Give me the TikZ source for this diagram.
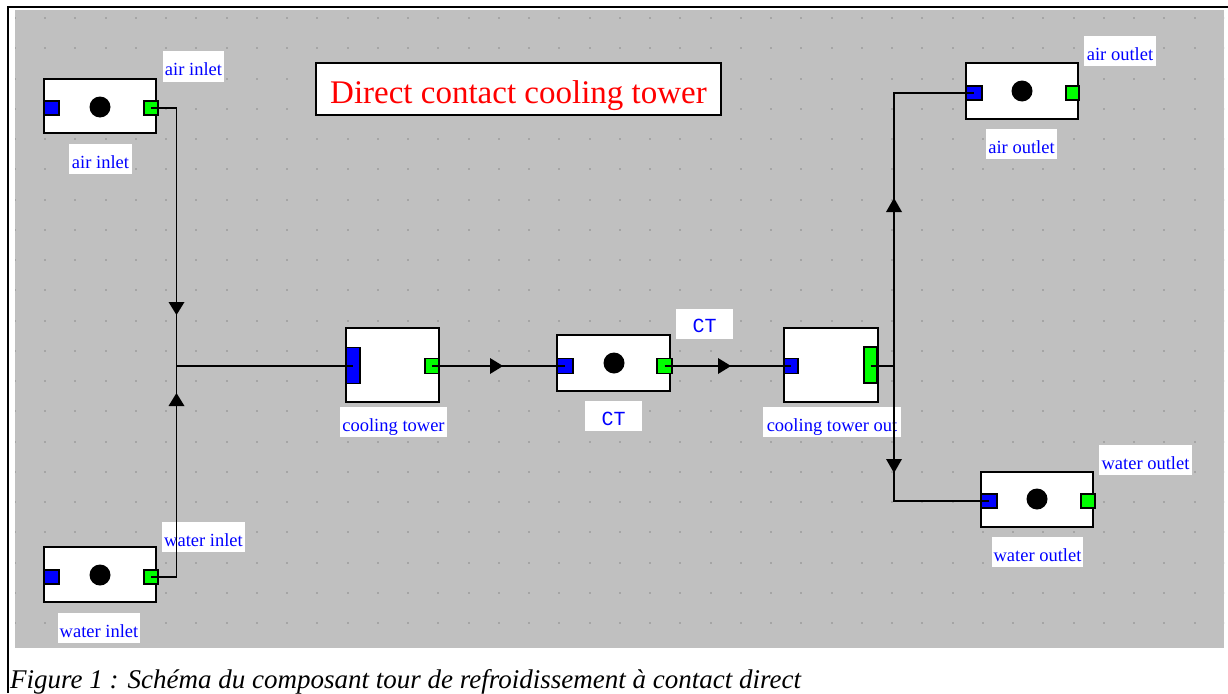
\documentclass[tikz,border=0pt]{standalone}
\usepackage{fontspec}
\setmainfont{Liberation Serif}
\newfontfamily\ctmono{Liberation Mono}
\definecolor{bggray}{RGB}{192,192,192}
\definecolor{dotgray}{RGB}{165,165,165}
\definecolor{portblue}{RGB}{0,0,255}
\definecolor{portgreen}{RGB}{0,255,0}
\definecolor{labelblue}{RGB}{0,0,255}
\definecolor{titlered}{RGB}{255,0,0}
\begin{document}
\begin{tikzpicture}[x=1pt,y=-1pt,
  unit/.style={draw=black, line width=1.5pt, fill=white, inner sep=0pt},
  inport/.style={draw=black, line width=1.2pt, fill=portblue, inner sep=0pt, minimum width=15pt, minimum height=14pt},
  outport/.style={draw=black, line width=1.2pt, fill=portgreen, inner sep=0pt, minimum width=14pt, minimum height=14pt},
  hub/.style={circle, fill=black, inner sep=0pt, minimum size=21pt},
  tag/.style={fill=white, text=labelblue, inner xsep=0pt, inner ysep=0pt,
    font=\fontsize{18.5}{20}\selectfont, text height=24pt, text depth=6pt, minimum width=#1},
  monotag/.style={tag=#1, font=\ctmono\fontsize{20}{22}\selectfont},
  wire/.style={draw=black, line width=1.6pt},
  tip/.style={fill=black}
]
\useasboundingbox (0,0) rectangle (1228,693);
% frame
\draw[line width=2.2pt] (8,693) -- (8,7) -- (1228,7);
\fill[bggray] (15,10) rectangle (1224,648);
\begin{scope}
  \clip (15,10) rectangle (1224,648);
  \foreach \i in {0,...,40}{\foreach \j in {0,...,20}{
    \fill[dotgray] ({14.75+30.25*\i-1},{18+30.25*\j-1}) rectangle ++(2,2);}}
\end{scope}

% air inlet
\node[unit, minimum width=112pt, minimum height=54pt] (ai) at (100,106) {};
\node[inport] (aib) at (51.5,108) {};
\node[outport] (aig) at (151,108) {};
\node[hub] (aih) at (100,107) {};
% water inlet
\node[unit, minimum width=112pt, minimum height=55pt] (wi) at (100,574.5) {};
\node[inport] (wib) at (51.5,577) {};
\node[outport] (wig) at (151,577) {};
\node[hub] (wih) at (100,575) {};
% cooling tower
\node[unit, minimum width=93pt, minimum height=74pt] (ct) at (392.5,365) {};
\node[inport, minimum width=14pt, minimum height=36pt] (ctb) at (353,365.5) {};
\node[outport, minimum height=15pt] (ctg) at (432,366) {};
% CT
\node[unit, minimum width=113pt, minimum height=56pt] (cti) at (613.5,363) {};
\node[inport, minimum width=16pt, minimum height=15pt] (cib) at (565,366) {};
\node[outport, minimum width=15pt, minimum height=15pt] (cig) at (664.5,366) {};
\node[hub] (cih) at (614,363) {};
% cooling tower out
\node[unit, minimum width=94pt, minimum height=74pt] (cto) at (831,365) {};
\node[inport, minimum width=14pt, minimum height=15pt] (cob) at (791,366) {};
\node[outport, minimum width=13pt, minimum height=36pt] (cog) at (870.5,365) {};
% air outlet
\node[unit, minimum width=112pt, minimum height=56pt] (ao) at (1022,91) {};
\node[inport, minimum width=16pt] (aob) at (974,93) {};
\node[outport, minimum width=13pt] (aog) at (1072.5,93) {};
\node[hub] (aoh) at (1022,91) {};
% water outlet
\node[unit, minimum width=112pt, minimum height=55pt] (wo) at (1037,499.5) {};
\node[inport, minimum width=16pt] (wob) at (989,501) {};
\node[outport] (wog) at (1088,501) {};
\node[hub] (woh) at (1037,499) {};

% labels
\node[tag=61pt] (lait) at (193.5,66.5) {air inlet};
\node[tag=63pt] (laib) at (100.5,159) {air inlet};
\node[tag=83pt] (lwit) at (203.5,537) {water inlet};
\node[tag=82pt] (lwib) at (99,628) {water inlet};
\node[tag=107pt] (lct) at (393.5,422) {cooling tower};
\node[monotag=57pt] (lcit) at (704.5,323.5) {CT\hspace{24pt}};
\node[monotag=57pt] (lcib) at (613.5,416) {CT};
\node[tag=138pt] (lcto) at (832,422) {cooling tower out};
\node[tag=72pt] (laot) at (1120,51.5) {air outlet};
\node[tag=71pt] (laob) at (1021.5,144) {air outlet};
\node[tag=93pt] (lwot) at (1145.5,460) {water outlet};
\node[tag=91pt] (lwob) at (1037.5,552) {water outlet};

% title
\node[draw=black, line width=1.5pt, fill=white, minimum width=405pt, inner xsep=0pt, inner ysep=0pt,
  text height=40pt, text depth=12pt, text=titlered, font=\fontsize{33}{36}\selectfont] (title) at (518.5,89) {Direct contact cooling tower};

% connectors
\coordinate (jin) at (176.5,366);
\coordinate (jout) at (894,366);
\draw[wire] (aig.center) -| (jin);
\draw[wire] (wig.center) -| (jin);
\draw[wire] (jin) -- (ctb.center |- jin);
\draw[wire] (ctg.center) -- (cib.center);
\draw[wire] (cig.center) -- (cob.center);
\draw[wire] (cog.center |- jout) -- (jout);
\draw[wire] (jout) |- (aob.center);
\draw[wire] (jout) |- (wob.center);

% flow arrowheads
\fill[tip] (168.5,302) -- (184.5,302) -- (176.5,315) -- cycle;
\fill[tip] (168.5,406) -- (184.5,406) -- (176.5,393) -- cycle;
\fill[tip] (490,358) -- (490,374) -- (503,366) -- cycle;
\fill[tip] (718,358) -- (718,374) -- (731,366) -- cycle;
\fill[tip] (886,212) -- (902,212) -- (894,198) -- cycle;
\fill[tip] (886,459) -- (902,459) -- (894,473) -- cycle;

% caption
\node[anchor=base west, inner sep=0pt, font=\itshape\fontsize{27}{29}\selectfont] (cap) at (10,688)
  {Figure 1 : Schéma du composant tour de refroidissement à contact direct};
\end{tikzpicture}
\end{document}
